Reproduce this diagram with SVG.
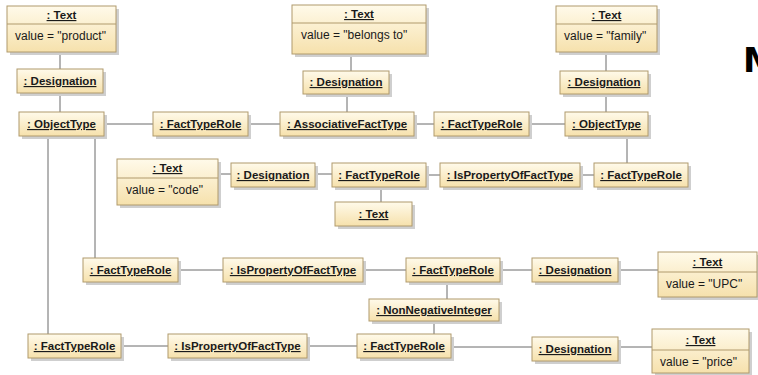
<svg xmlns="http://www.w3.org/2000/svg" width="758" height="375" viewBox="0 0 758 375">
<defs>
<linearGradient id="g" x1="0" y1="0" x2="0" y2="1">
<stop offset="0" stop-color="#FFFAEA"/>
<stop offset="1" stop-color="#F6E1AC"/>
</linearGradient>
<style>
.sh{fill:#cfcfcf;}
.b{fill:url(#g);stroke:#B09A6C;stroke-width:1;}
.dv{stroke:#B09A6C;stroke-width:1;}
.n{font-family:"Liberation Sans",Arial,sans-serif;font-size:11.5px;font-weight:bold;fill:#1a1a1a;text-anchor:middle;text-decoration:underline;}
.v{font-family:"Liberation Sans",Arial,sans-serif;font-size:12px;fill:#1a1a1a;}
.c line{stroke:#6a6a6a;stroke-width:1;fill:none;}
</style>
</defs>
<rect width="758" height="375" fill="#ffffff"/>
<g class="c" id="connectors">
<line x1="60" y1="52" x2="60" y2="69"/>
<line x1="60" y1="93" x2="60" y2="112"/>
<line x1="104" y1="124" x2="153" y2="124"/>
<line x1="248" y1="124" x2="280" y2="124"/>
<line x1="351" y1="54" x2="351" y2="71"/>
<line x1="347" y1="94" x2="347" y2="112"/>
<line x1="414" y1="124" x2="434" y2="124"/>
<line x1="529" y1="124" x2="565" y2="124"/>
<line x1="606" y1="52" x2="606" y2="71"/>
<line x1="606" y1="94" x2="606" y2="112"/>
<line x1="627" y1="136" x2="627" y2="163"/>
<line x1="218" y1="174" x2="231" y2="174"/>
<line x1="315" y1="174" x2="332" y2="174"/>
<line x1="381" y1="187" x2="381" y2="202"/>
<line x1="426" y1="175" x2="440" y2="175"/>
<line x1="580" y1="175" x2="594" y2="175"/>
<line x1="95" y1="136" x2="95" y2="258"/>
<line x1="48" y1="136" x2="48" y2="334"/>
<line x1="178" y1="270" x2="223" y2="270"/>
<line x1="363" y1="270" x2="406" y2="270"/>
<line x1="500" y1="270" x2="532" y2="270"/>
<line x1="618" y1="270" x2="658" y2="270"/>
<line x1="447" y1="282" x2="447" y2="299"/>
<line x1="434" y1="322" x2="434" y2="334"/>
<line x1="121" y1="346" x2="168" y2="346"/>
<line x1="307" y1="346" x2="357" y2="346"/>
<line x1="451" y1="347" x2="532" y2="347"/>
<line x1="618" y1="347" x2="652" y2="347"/>
</g>
<g id="text_product"><rect class="sh" x="10" y="9" width="109" height="46"/><rect class="b" x="7" y="6" width="109" height="46"/><line class="dv" x1="7" y1="24" x2="116" y2="24"/><text class="n" x="61.5" y="19">: Text</text><text class="v" x="15" y="40">value = "product"</text></g>
<g id="desig1"><rect class="sh" x="20" y="72" width="86" height="24"/><rect class="b" x="17" y="69" width="86" height="24"/><text class="n" x="60" y="85">: Designation</text></g>
<g id="objtype1"><rect class="sh" x="22" y="115" width="85" height="24"/><rect class="b" x="19" y="112" width="85" height="24"/><text class="n" x="61.5" y="128">: ObjectType</text></g>
<g id="ftr1"><rect class="sh" x="156" y="115" width="95" height="24"/><rect class="b" x="153" y="112" width="95" height="24"/><text class="n" x="200.5" y="128">: FactTypeRole</text></g>
<g id="text_belongs"><rect class="sh" x="295" y="8" width="134" height="49"/><rect class="b" x="292" y="5" width="134" height="49"/><line class="dv" x1="292" y1="23" x2="426" y2="23"/><text class="n" x="359" y="18">: Text</text><text class="v" x="301" y="39">value = "belongs to"</text></g>
<g id="desig2"><rect class="sh" x="306" y="74" width="86" height="23"/><rect class="b" x="303" y="71" width="86" height="23"/><text class="n" x="346" y="86">: Designation</text></g>
<g id="aft"><rect class="sh" x="283" y="115" width="134" height="24"/><rect class="b" x="280" y="112" width="134" height="24"/><text class="n" x="347" y="128">: AssociativeFactType</text></g>
<g id="ftr2"><rect class="sh" x="437" y="115" width="95" height="24"/><rect class="b" x="434" y="112" width="95" height="24"/><text class="n" x="481.5" y="128">: FactTypeRole</text></g>
<g id="text_family"><rect class="sh" x="559" y="9" width="101" height="46"/><rect class="b" x="556" y="6" width="101" height="46"/><line class="dv" x1="556" y1="24" x2="657" y2="24"/><text class="n" x="606.5" y="19">: Text</text><text class="v" x="564" y="40">value = "family"</text></g>
<g id="desig3"><rect class="sh" x="563" y="74" width="88" height="23"/><rect class="b" x="560" y="71" width="88" height="23"/><text class="n" x="604" y="86">: Designation</text></g>
<g id="objtype2"><rect class="sh" x="568" y="115" width="83" height="24"/><rect class="b" x="565" y="112" width="83" height="24"/><text class="n" x="606.5" y="128">: ObjectType</text></g>
<g id="text_code"><rect class="sh" x="120" y="162" width="101" height="46"/><rect class="b" x="117" y="159" width="101" height="46"/><line class="dv" x1="117" y1="178" x2="218" y2="178"/><text class="n" x="167.5" y="172">: Text</text><text class="v" x="126" y="194">value = "code"</text></g>
<g id="desig4"><rect class="sh" x="234" y="166" width="84" height="24"/><rect class="b" x="231" y="163" width="84" height="24"/><text class="n" x="273" y="179">: Designation</text></g>
<g id="ftr3"><rect class="sh" x="335" y="166" width="94" height="24"/><rect class="b" x="332" y="163" width="94" height="24"/><text class="n" x="379" y="179">: FactTypeRole</text></g>
<g id="text_small"><rect class="sh" x="338" y="205" width="77" height="24"/><rect class="b" x="335" y="202" width="77" height="24"/><text class="n" x="373.5" y="218">: Text</text></g>
<g id="isprop1"><rect class="sh" x="443" y="166" width="140" height="24"/><rect class="b" x="440" y="163" width="140" height="24"/><text class="n" x="510" y="179">: IsPropertyOfFactType</text></g>
<g id="ftr4"><rect class="sh" x="597" y="166" width="94" height="24"/><rect class="b" x="594" y="163" width="94" height="24"/><text class="n" x="641" y="179">: FactTypeRole</text></g>
<g id="ftr5"><rect class="sh" x="86" y="261" width="95" height="24"/><rect class="b" x="83" y="258" width="95" height="24"/><text class="n" x="130.5" y="274">: FactTypeRole</text></g>
<g id="isprop2"><rect class="sh" x="226" y="261" width="140" height="24"/><rect class="b" x="223" y="258" width="140" height="24"/><text class="n" x="293" y="274">: IsPropertyOfFactType</text></g>
<g id="ftr6"><rect class="sh" x="409" y="261" width="94" height="24"/><rect class="b" x="406" y="258" width="94" height="24"/><text class="n" x="453" y="274">: FactTypeRole</text></g>
<g id="desig5"><rect class="sh" x="535" y="261" width="86" height="24"/><rect class="b" x="532" y="258" width="86" height="24"/><text class="n" x="575" y="274">: Designation</text></g>
<g id="text_upc"><rect class="sh" x="661" y="255" width="99" height="45"/><rect class="b" x="658" y="252" width="99" height="45"/><line class="dv" x1="658" y1="272" x2="757" y2="272"/><text class="n" x="707.5" y="266">: Text</text><text class="v" x="666" y="288">value = "UPC"</text></g>
<g id="nni"><rect class="sh" x="372" y="302" width="130" height="22"/><rect class="b" x="369" y="299" width="130" height="22"/><text class="n" x="434" y="314">: NonNegativeInteger</text></g>
<g id="ftr7"><rect class="sh" x="360" y="337" width="94" height="24"/><rect class="b" x="357" y="334" width="94" height="24"/><text class="n" x="404" y="350">: FactTypeRole</text></g>
<g id="isprop3"><rect class="sh" x="171" y="337" width="139" height="24"/><rect class="b" x="168" y="334" width="139" height="24"/><text class="n" x="237.5" y="350">: IsPropertyOfFactType</text></g>
<g id="ftr8"><rect class="sh" x="31" y="337" width="93" height="24"/><rect class="b" x="28" y="334" width="93" height="24"/><text class="n" x="74.5" y="350">: FactTypeRole</text></g>
<g id="desig6"><rect class="sh" x="535" y="340" width="86" height="24"/><rect class="b" x="532" y="337" width="86" height="24"/><text class="n" x="575" y="353">: Designation</text></g>
<g id="text_price"><rect class="sh" x="655" y="332" width="97" height="44"/><rect class="b" x="652" y="329" width="97" height="44"/><line class="dv" x1="652" y1="350" x2="749" y2="350"/><text class="n" x="700.5" y="344">: Text</text><text class="v" x="660" y="366">value = "price"</text></g>
<text x="743" y="72" font-family="DejaVu Sans, sans-serif" font-size="34" font-weight="bold" fill="#000">M</text>
</svg>
